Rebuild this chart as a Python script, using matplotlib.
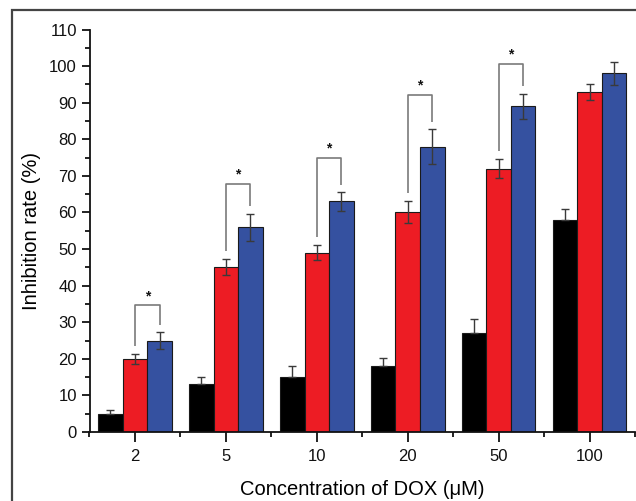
import matplotlib
matplotlib.use('Agg')
import matplotlib.pyplot as plt
from matplotlib.patches import Rectangle
from matplotlib.ticker import MultipleLocator, FixedLocator
import numpy as np

plt.rcParams['font.family'] = ['Liberation Sans', 'DejaVu Sans']

# data
concentrations = ['2', '5', '10', '20', '50', '100']
black_vals = [5.0, 13.0, 15.0, 18.0, 27.0, 58.0]
black_err = [1.0, 2.0, 3.1, 2.3, 4.0, 3.0]
red_vals = [20.0, 45.0, 49.0, 60.0, 72.0, 93.0]
red_err = [1.4, 2.2, 2.0, 3.0, 2.5, 2.2]
blue_vals = [25.0, 56.0, 63.0, 78.0, 89.0, 98.0]
blue_err = [2.3, 3.7, 2.6, 4.7, 3.5, 3.2]
# significance brackets (red vs blue) for the first five groups
bracket_tops = [34.6, 67.8, 74.9, 92.1, 100.7]

BLACK = '#000000'
RED = '#ED1C24'
BLUE = '#3551A0'
EDGE = '#1a1a1a'
ERRC = '#3a3a3a'

fig = plt.figure(figsize=(6.36, 5.01), dpi=100)
ax = fig.add_axes([89.5 / 636, 69 / 501, (635 - 89.5) / 636, (432 - 29.5) / 501])

x = np.arange(len(concentrations))
w = 0.27

ax.bar(x - w, black_vals, w, color=BLACK, edgecolor=EDGE, linewidth=0.8, zorder=2)
ax.bar(x, red_vals, w, color=RED, edgecolor=EDGE, linewidth=0.8, zorder=2)
ax.bar(x + w, blue_vals, w, color=BLUE, edgecolor=EDGE, linewidth=0.8, zorder=2)

ekw = dict(fmt='none', ecolor=ERRC, elinewidth=1.0, capsize=3.2, capthick=1.0, zorder=3)
ax.errorbar(x - w, black_vals, yerr=[np.zeros(len(black_err)), black_err], **ekw)
ax.errorbar(x, red_vals, yerr=red_err, **ekw)
ax.errorbar(x + w, blue_vals, yerr=blue_err, **ekw)

# brackets with stars
for i, top in enumerate(bracket_tops):
    y_red = red_vals[i] + red_err[i] + 2.2
    y_blue = blue_vals[i] + blue_err[i] + 2.0
    ax.plot([x[i], x[i], x[i] + w, x[i] + w], [y_red, top, top, y_blue],
            color='#7a7a7a', lw=1.2, zorder=4, solid_capstyle='butt')
    ax.text(x[i] + w / 2, top + 0.6, '*', ha='center', va='bottom',
            fontsize=10, fontweight='bold', color='#111111')

ax.set_xlim(-0.5, 5.5)
ax.set_ylim(0, 110)
ax.set_xticks(x)
ax.set_xticklabels(concentrations)
ax.xaxis.set_minor_locator(FixedLocator(np.arange(-0.5, 5.6, 1.0)))
ax.yaxis.set_major_locator(MultipleLocator(10))
ax.yaxis.set_minor_locator(MultipleLocator(5))

for s in ['top', 'right']:
    ax.spines[s].set_visible(False)
for s in ['left', 'bottom']:
    ax.spines[s].set_linewidth(1.3)
    ax.spines[s].set_color('#111111')

ax.tick_params(axis='both', which='major', direction='out', length=6, width=1.3,
               labelsize=12, colors='#111111', pad=3)
ax.tick_params(axis='both', which='minor', direction='out', length=3.5, width=1.3,
               colors='#111111')
ax.tick_params(axis='x', which='major', length=7, pad=5)

ax.set_xlabel('Concentration of DOX (\u03bcM)', fontsize=14.5, labelpad=12)
ax.set_ylabel('Inhibition rate (%)', fontsize=14.5, labelpad=6)

# outer frame of the figure panel
fig.patches.append(Rectangle((12 / 636, -0.1), 1.2, 1 - 10 / 501 + 0.1,
                             transform=fig.transFigure, fill=False,
                             edgecolor='#444444', linewidth=1.6, clip_on=False))

fig.savefig('out.png', dpi=100)
